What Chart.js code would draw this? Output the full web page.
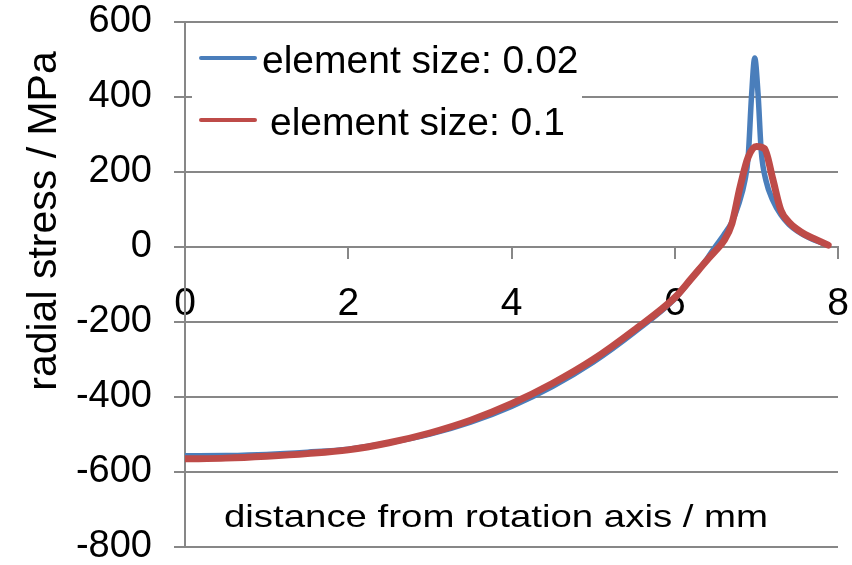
<!DOCTYPE html>
<html>
<head>
<meta charset="utf-8">
<script src="https://cdn.jsdelivr.net/npm/chart.js@4.4.1/dist/chart.umd.min.js"></script>
<style>
  html, body { margin: 0; padding: 0; background: #fff; }
  #wrap { width: 852px; height: 565px; }
</style>
</head>
<body>
<div id="wrap"><canvas id="stress-chart" width="852" height="565"></canvas></div>
<script>
// element size 0.02
const distFine = [0, 0.5, 1, 1.5, 2, 2.5, 3, 3.5, 4, 4.5, 5, 5.5, 6, 6.2, 6.4, 6.5, 6.6, 6.7, 6.78, 6.86, 6.9, 6.94, 6.98, 7.02, 7.06, 7.12, 7.2, 7.3, 7.4, 7.5, 7.66, 7.8, 7.88];
const stressFine = [-557, -556, -553, -547, -539, -522, -499, -467, -425, -372, -307, -228, -138, -86, -30, 2, 32, 66, 112, 178, 241, 400, 504, 410, 255, 175, 125, 86, 60, 43, 23, 11, 5];

// element size 0.1
const distCoarse = [0, 0.5, 1, 1.5, 2, 2.5, 3, 3.5, 4, 4.5, 5, 5.5, 6, 6.2, 6.4, 6.5, 6.6, 6.7, 6.8, 6.9, 7.0, 7.1, 7.2, 7.3, 7.4, 7.5, 7.6, 7.7, 7.8, 7.88];
const stressCoarse = [-565, -563, -558, -551, -541, -522, -496, -462, -418, -364, -300, -222, -135, -85, -34, -10, 16, 62, 160, 240, 268, 262, 182, 98, 66, 47, 33, 23, 13, 5];

const xTickValues = [0, 2, 4, 6, 8];
const yTickValues = [-800, -600, -400, -200, 0, 200, 400, 600];

const seriesLabels = ["element size: 0.02", "element size: 0.1"];
const xTitle = "distance from rotation axis / mm";
const yTitle = "radial stress / MPa";

const BLUE = "#4A7EBB";
const RED = "#BE4B48";
const GRID = "#878787";
const FONT = "'Liberation Sans', Arial, sans-serif";

const toPoints = (xs, ys) => xs.map((x, i) => ({ x: x, y: ys[i] }));

const decorations = {
  id: "decorations",
  beforeDatasetsDraw(chart) {
    const ctx = chart.ctx;
    ctx.save();
    // legend box sits on top of the grid
    ctx.fillStyle = "#ffffff";
    ctx.fillRect(192, 24, 390, 124);
    const rows = [
      { color: BLUE, lineY: 58, textX: 262, base: 73 },
      { color: RED, lineY: 120, textX: 270, base: 135 }
    ];
    ctx.lineCap = "round";
    ctx.font = "39px " + FONT;
    ctx.textAlign = "left";
    ctx.textBaseline = "alphabetic";
    rows.forEach((row, i) => {
      ctx.strokeStyle = row.color;
      ctx.lineWidth = 4;
      ctx.beginPath();
      ctx.moveTo(201, row.lineY);
      ctx.lineTo(255, row.lineY);
      ctx.stroke();
      ctx.fillStyle = "#000";
      ctx.fillText(seriesLabels[i], row.textX, row.base);
    });
    ctx.restore();
  },
  afterDraw(chart) {
    const ctx = chart.ctx;
    ctx.save();
    ctx.fillStyle = "#000";
    ctx.textAlign = "center";
    ctx.textBaseline = "alphabetic";

    ctx.save();
    ctx.translate(496, 527);
    ctx.scale(1.2, 1);
    ctx.font = "32px " + FONT;
    ctx.fillText(xTitle, 0, 0);
    ctx.restore();

    ctx.save();
    ctx.translate(56, 221);
    ctx.rotate(-Math.PI / 2);
    ctx.font = "41px " + FONT;
    ctx.fillText(yTitle, 0, 0);
    ctx.restore();

    ctx.restore();
  }
};

new Chart(document.getElementById("stress-chart"), {
  type: "line",
  data: {
    datasets: [
      {
        label: seriesLabels[0],
        data: toPoints(distFine, stressFine),
        borderColor: BLUE,
        borderWidth: 5.5,
        pointRadius: 0,
        cubicInterpolationMode: "monotone",
        borderCapStyle: "round",
        borderJoinStyle: "round",
        order: 1
      },
      {
        label: seriesLabels[1],
        data: toPoints(distCoarse, stressCoarse),
        borderColor: RED,
        borderWidth: 7,
        pointRadius: 0,
        cubicInterpolationMode: "monotone",
        borderCapStyle: "round",
        borderJoinStyle: "round",
        order: 0
      }
    ]
  },
  options: {
    responsive: false,
    animation: false,
    devicePixelRatio: 1,
    layout: { padding: { left: 0, right: 14, top: 22, bottom: 18 } },
    plugins: { legend: { display: false }, tooltip: { enabled: false } },
    scales: {
      x: {
        type: "linear",
        position: { y: 0 },
        min: 0,
        max: 8,
        afterBuildTicks: (axis) => { axis.ticks = xTickValues.map((v) => ({ value: v })); },
        afterFit: (axis) => { axis.paddingLeft = 0; axis.paddingRight = 0; },
        grid: { drawOnChartArea: false, drawTicks: true, tickLength: 11, color: GRID, lineWidth: 2 },
        border: { display: true, color: GRID, width: 2 },
        ticks: { color: "#000", padding: 27, maxRotation: 0, font: { family: FONT, size: 39, lineHeight: 1 } }
      },
      y: {
        min: -800,
        max: 600,
        afterBuildTicks: (axis) => { axis.ticks = yTickValues.map((v) => ({ value: v })); },
        afterFit: (axis) => { axis.width = 185; axis.paddingTop = 0; axis.paddingBottom = 0; },
        grid: { color: GRID, lineWidth: 2, tickLength: 11 },
        border: { display: true, color: GRID, width: 2 },
        ticks: { color: "#000", padding: 22, font: { family: FONT, size: 38, lineHeight: 0.9 } }
      }
    }
  },
  plugins: [decorations]
});
</script>
</body>
</html>
